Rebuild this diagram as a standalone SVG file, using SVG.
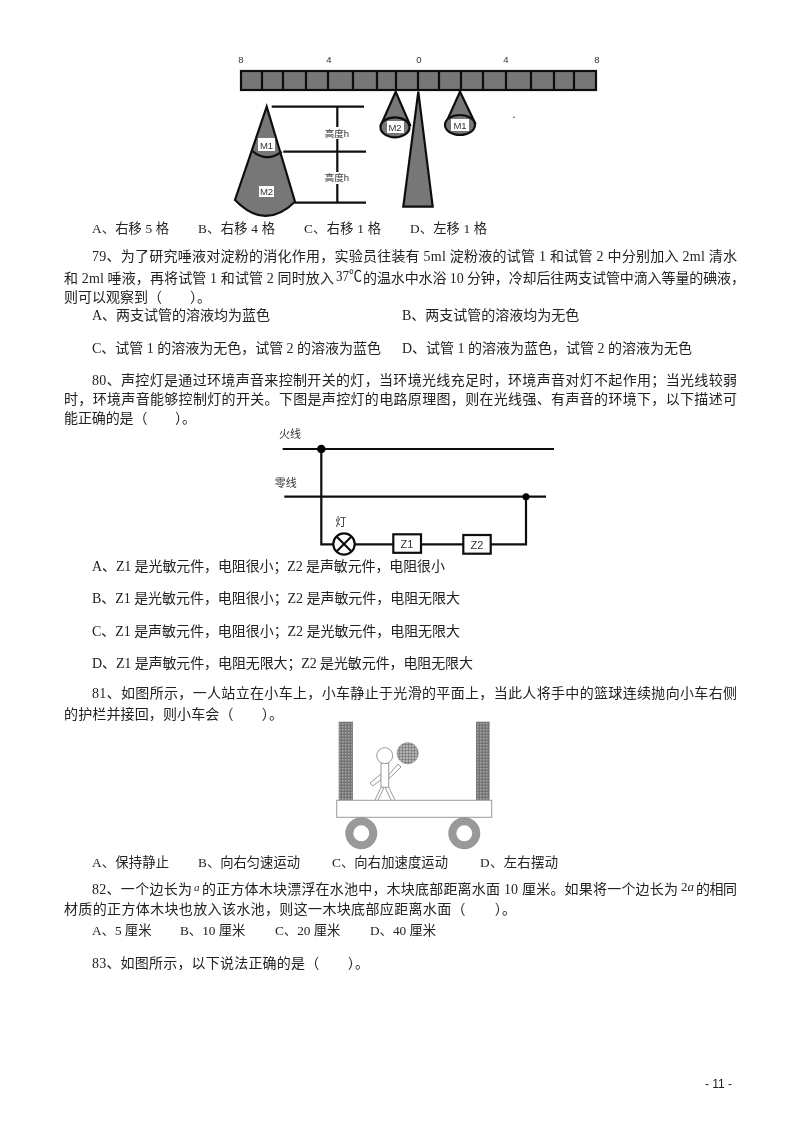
<svg xmlns="http://www.w3.org/2000/svg" width="800" height="1132" viewBox="0 0 800 1132">
<style>
text{font-family:"Liberation Serif","Noto Sans CJK SC",serif;font-size:14px;fill:#222}
text.n{font-size:13.3px}
.s{font-family:"Liberation Sans","Noto Sans CJK SC",sans-serif;font-size:9.5px;fill:#333;text-anchor:middle}
.b{stroke:#111;stroke-width:2.200;fill:#777}
.l{stroke:#111;stroke-width:2.200;fill:none}
.w{stroke:#111;stroke-width:2.200;fill:#fff}
.c{stroke:#999;stroke-width:1;fill:#fff}
.lab{fill:#fff}
</style>
<defs>
<pattern id="wall" width="3" height="3" patternUnits="userSpaceOnUse"><rect width="3" height="3" fill="#757575"/><rect width="1.500" height="1.500" fill="#a8a8a8"/></pattern>
<pattern id="grid" width="3" height="3" patternUnits="userSpaceOnUse"><rect width="3" height="3" fill="#b5b0b5"/><path d="M0 0H3M0 0V3" stroke="#666" stroke-width="1"/></pattern>
<filter id="soft" x="0" y="0" width="100%" height="100%" filterUnits="objectBoundingBox"><feGaussianBlur stdDeviation="0.350"/></filter>
</defs>
<rect width="800" height="1132" fill="#fff"/>
<g filter="url(#soft)">
<rect width="800" height="1132" fill="#fff"/>
<g id="balance">
<g id="beam">
<rect class="b" x="241" y="71" width="355" height="19"/>
<path class="l" d="M262 71V90M283 71V90M306 71V90M328 71V90M353 71V90M377 71V90M396 71V90M418 71V90M439 71V90M461 71V90M483 71V90M506 71V90M531 71V90M554 71V90M574 71V90"/>
<text class="s" x="241" y="63">8</text><text class="s" x="329" y="63">4</text><text class="s" x="419" y="63">0</text><text class="s" x="506" y="63">4</text><text class="s" x="597" y="63">8</text>
</g>
<g id="big-cone">
<path class="b" d="M266.700 106.700L235 200Q265 231 295 201.700Z"/>
<path class="l" d="M252.300 151Q267 163 281.700 151.700"/>
<rect class="lab" x="258" y="138" width="17" height="13"/><text class="s" x="266.500" y="148.500">M1</text>
<rect class="lab" x="259" y="186" width="15" height="11"/><text class="s" x="266.500" y="195">M2</text>
</g>
<g id="height">
<path class="l" d="M271.700 106.700H364M283.300 151.700H366M295 202.700H366M337.300 106.700V202.700"/>
<rect class="lab" x="324" y="127" width="26" height="12"/><text class="s" x="337" y="136.500">高度h</text>
<rect class="lab" x="324" y="172" width="26" height="12"/><text class="s" x="337" y="181">高度h</text>
</g>
<g id="m2-small">
<path class="b" d="M395.700 91.700L381 125H410Z"/><ellipse class="b" cx="395" cy="127.300" rx="14.500" ry="10"/>
<rect class="lab" x="387" y="121" width="17" height="12"/><text class="s" x="395" y="130.500">M2</text>
</g>
<g id="m1-small">
<path class="b" d="M460 91.700L446 123H475Z"/><ellipse class="b" cx="460" cy="125" rx="15" ry="10"/>
<rect class="lab" x="451" y="119" width="18" height="12"/><text class="s" x="460" y="128.500">M1</text>
</g>
<path id="fulcrum" class="b" d="M418.300 91.700L403.300 206.700H432.700Z"/>
<circle cx="514" cy="117.300" r="0.800" fill="#333"/>
</g>

<g id="connectors">
<path class="l" d="M282.700 449H554M284.300 496.700H546M321.300 449V544.300H333.300M354.700 544.300H393.300M421 544.300H463.300M490.700 544.300H526V496.700"/>
</g>
<g id="circuit">
<circle cx="321.300" cy="449" r="4.300" fill="#000"/>
<circle cx="526" cy="496.700" r="3.500" fill="#000"/>
<g id="lamp"><circle class="w" cx="344" cy="544" r="10.700"/><path class="l" d="M336.500 536.500L351.500 551.500M351.500 536.500L336.500 551.500"/></g>
<g id="z1"><rect class="w" x="393.300" y="534.300" width="27.700" height="18.500"/><text class="s" style="font-size:11px" x="407" y="548">Z1</text></g>
<g id="z2"><rect class="w" x="463.300" y="535" width="27.400" height="18.700"/><text class="s" style="font-size:11px" x="477" y="548.500">Z2</text></g>
<text class="s" style="font-size:11px" x="290" y="438">火线</text>
<text class="s" style="font-size:11px" x="285.700" y="487">零线</text>
<text class="s" style="font-size:11px" x="340.700" y="526">灯</text>
</g>

<g id="cart">
<rect x="338.700" y="721.700" width="14.300" height="78.500" fill="url(#wall)"/>
<rect x="476" y="721.700" width="13.700" height="78.500" fill="url(#wall)"/>
<rect class="c" x="336.700" y="800.300" width="155" height="17"/>
<circle cx="361.300" cy="833.300" r="12" fill="#fff" stroke="#999" stroke-width="8"/>
<circle cx="464.300" cy="833.300" r="12" fill="#fff" stroke="#999" stroke-width="8"/>
<g id="person">
<path class="c" d="M388.700 775L398 764L401 767L388.700 779ZM381 774L370 783L372.500 786L381 780ZM381 787.300L375 800M384 787.300L378 800M385 787.300L391 800M388.700 787.300L395 800"/>
<rect class="c" x="381" y="763.300" width="7.700" height="24"/>
<circle class="c" cx="384.700" cy="755.700" r="8"/>
<circle cx="407.700" cy="753.300" r="10.700" fill="url(#grid)" stroke="#888" stroke-width="0.500"/>
</g>
</g>

<g id="text">
<text class="n" x="92" y="233" textLength="77" lengthAdjust="spacing">A、右移 5 格</text><text class="n" x="198" y="233" textLength="77" lengthAdjust="spacing">B、右移 4 格</text><text class="n" x="304" y="233" textLength="77" lengthAdjust="spacing">C、右移 1 格</text><text class="n" x="410" y="233" textLength="77" lengthAdjust="spacing">D、左移 1 格</text>
<text x="92" y="261" textLength="645" lengthAdjust="spacing">79、为了研究唾液对淀粉的消化作用，实验员往装有 5ml 淀粉液的试管 1 和试管 2 中分别加入 2ml 清水</text>
<text x="64" y="283" textLength="270" lengthAdjust="spacing">和 2ml 唾液，再将试管 1 和试管 2 同时放入</text>
<text x="336" y="281" style="font-size:15px" textLength="26" lengthAdjust="spacingAndGlyphs">37℃</text>
<text x="363" y="283" textLength="382" lengthAdjust="spacing">的温水中水浴 10 分钟，冷却后往两支试管中滴入等量的碘液，</text>
<text x="64" y="302">则可以观察到（　　）。</text>
<text x="92" y="320">A、两支试管的溶液均为蓝色</text><text x="402" y="320">B、两支试管的溶液均为无色</text>
<text x="92" y="353" textLength="289" lengthAdjust="spacing">C、试管 1 的溶液为无色，试管 2 的溶液为蓝色</text><text x="402" y="353" textLength="290" lengthAdjust="spacing">D、试管 1 的溶液为蓝色，试管 2 的溶液为无色</text>
<text x="92" y="385" textLength="645" lengthAdjust="spacing">80、声控灯是通过环境声音来控制开关的灯，当环境光线充足时，环境声音对灯不起作用；当光线较弱</text>
<text x="64" y="404" textLength="673" lengthAdjust="spacing">时，环境声音能够控制灯的开关。下图是声控灯的电路原理图，则在光线强、有声音的环境下，以下描述可</text>
<text x="64" y="423" textLength="132" lengthAdjust="spacing">能正确的是（　　）。</text>
<text x="92" y="571" textLength="353" lengthAdjust="spacing">A、Z1 是光敏元件，电阻很小；Z2 是声敏元件，电阻很小</text>
<text x="92" y="603" textLength="368" lengthAdjust="spacing">B、Z1 是光敏元件，电阻很小；Z2 是声敏元件，电阻无限大</text>
<text x="92" y="636" textLength="368" lengthAdjust="spacing">C、Z1 是声敏元件，电阻很小；Z2 是光敏元件，电阻无限大</text>
<text x="92" y="668" textLength="381" lengthAdjust="spacing">D、Z1 是声敏元件，电阻无限大；Z2 是光敏元件，电阻无限大</text>
<text x="92" y="698" textLength="645" lengthAdjust="spacing">81、如图所示，一人站立在小车上，小车静止于光滑的平面上，当此人将手中的篮球连续抛向小车右侧</text>
<text x="64" y="719" textLength="219" lengthAdjust="spacing">的护栏并接回，则小车会（　　）。</text>
<text class="n" x="92" y="867" textLength="77" lengthAdjust="spacing">A、保持静止</text><text class="n" x="198" y="867" textLength="102" lengthAdjust="spacing">B、向右匀速运动</text><text class="n" x="332" y="867" textLength="116" lengthAdjust="spacing">C、向右加速度运动</text><text class="n" x="480" y="867" textLength="78" lengthAdjust="spacing">D、左右摆动</text>
<text x="92" y="894" textLength="100" lengthAdjust="spacing">82、一个边长为</text>
<text x="194" y="891" style="font-style:italic;font-size:11px">a</text>
<text x="202" y="894" textLength="476" lengthAdjust="spacing">的正方体木块漂浮在水池中，木块底部距离水面 10 厘米。如果将一个边长为</text>
<text x="681" y="891" style="font-size:13px">2<tspan font-style="italic">a</tspan></text>
<text x="696" y="894" textLength="41" lengthAdjust="spacing">的相同</text>
<text x="64" y="914" textLength="452" lengthAdjust="spacing">材质的正方体木块也放入该水池，则这一木块底部应距离水面（　　）。</text>
<text class="n" x="92" y="935">A、5 厘米</text><text class="n" x="180" y="935">B、10 厘米</text><text class="n" x="275" y="935">C、20 厘米</text><text class="n" x="370" y="935">D、40 厘米</text>
<text x="92" y="968" textLength="277" lengthAdjust="spacing">83、如图所示，以下说法正确的是（　　）。</text>
<text x="705" y="1088" style="font-family:'Liberation Sans',sans-serif;font-size:12px">- 11 -</text>
</g>
</g>
</svg>
